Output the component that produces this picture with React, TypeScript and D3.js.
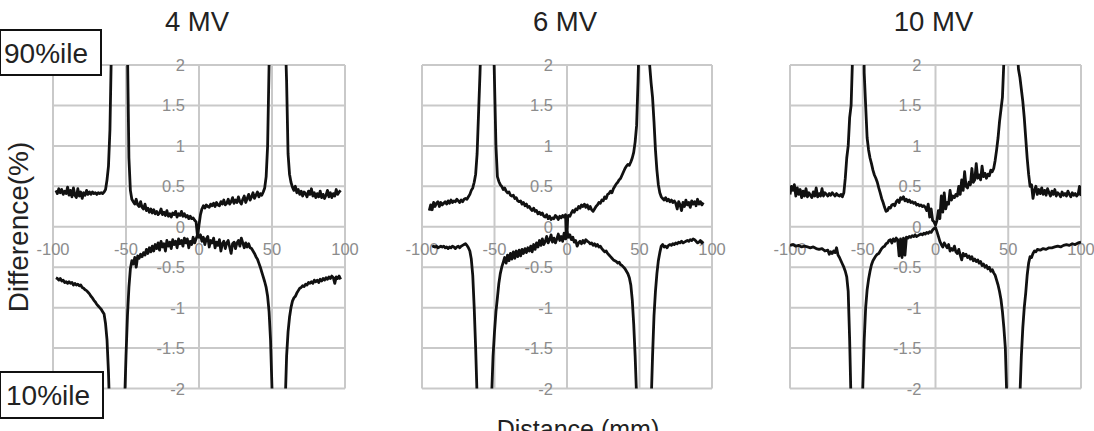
import React from "react";
import * as d3 from "d3";

type P = [number, number];

const panelTitles = ["4 MV", "6 MV", "10 MV"];
const xTicks = [-100, -50, 0, 50, 100];
const yTicks = [-2, -1.5, -1, -0.5, 0, 0.5, 1, 1.5, 2];
const yTickLabels = ["-2", "-1.5", "-1", "-0.5", "0", "0.5", "1", "1.5", "2"];
const xTickLabels = ["-100", "-50", "0", "50", "100"];
const upperLabel = "90%ile";
const lowerLabel = "10%ile";
const yAxisTitle = "Difference(%)";
const xAxisTitle = "Distance (mm)";

const U4: P[] = [[-98,0.45],[-97,0.41],[-96,0.47],[-95,0.42],[-94,0.46],[-93,0.4],[-92,0.44],[-91,0.41],[-90,0.49],[-89,0.39],[-88,0.45],[-87,0.37],[-86,0.48],[-85,0.39],[-84,0.36],[-83,0.47],[-82,0.38],[-81,0.43],[-80,0.35],[-79,0.42],[-78,0.39],[-77,0.45],[-76,0.4],[-75,0.43],[-74,0.4],[-73,0.43],[-72,0.41],[-71,0.42],[-70,0.4],[-69,0.42],[-68,0.41],[-67,0.42],[-66,0.41],[-65,0.43],[-64,0.46],[-63,0.58],[-62,0.75],[-61,1.2],[-60,2.2],[-59,3.5],[-50,3.5],[-49,2.2],[-48,0.85],[-47,0.45],[-46,0.34],[-45,0.31],[-44,0.28],[-43,0.34],[-42,0.27],[-41,0.25],[-40,0.31],[-39,0.24],[-38,0.22],[-37,0.28],[-36,0.2],[-35,0.23],[-34,0.18],[-33,0.22],[-32,0.17],[-31,0.21],[-30,0.16],[-29,0.19],[-28,0.15],[-27,0.17],[-26,0.22],[-25,0.15],[-24,0.18],[-23,0.14],[-22,0.2],[-21,0.13],[-20,0.16],[-19,0.12],[-18,0.17],[-17,0.15],[-16,0.19],[-15,0.12],[-14,0.16],[-13,0.14],[-12,0.19],[-11,0.13],[-10,0.16],[-9,0.12],[-8,0.14],[-7,0.1],[-6,0.13],[-5,0.1],[-4,0.11],[-3,0.08],[-2,0.06],[-1,-0.12],[0,0.02],[1,0.15],[2,0.22],[3,0.26],[4,0.23],[5,0.27],[6,0.25],[7,0.24],[8,0.28],[9,0.26],[10,0.29],[11,0.25],[12,0.3],[13,0.27],[14,0.26],[15,0.31],[16,0.28],[17,0.33],[18,0.27],[19,0.29],[20,0.34],[21,0.28],[22,0.31],[23,0.36],[24,0.29],[25,0.33],[26,0.3],[27,0.37],[28,0.31],[29,0.28],[30,0.34],[31,0.38],[32,0.3],[33,0.35],[34,0.4],[35,0.33],[36,0.37],[37,0.42],[38,0.35],[39,0.39],[40,0.43],[41,0.37],[42,0.41],[43,0.39],[44,0.43],[45,0.48],[46,0.62],[47,1.0],[48,2.0],[49,3.5],[58,3.5],[59,2.4],[60,1.8],[61,0.9],[62,0.65],[63,0.55],[64,0.49],[65,0.45],[66,0.5],[67,0.42],[68,0.46],[69,0.4],[70,0.44],[71,0.38],[72,0.43],[73,0.41],[74,0.37],[75,0.44],[76,0.4],[77,0.47],[78,0.38],[79,0.42],[80,0.36],[81,0.41],[82,0.37],[83,0.44],[84,0.36],[85,0.4],[86,0.35],[87,0.39],[88,0.45],[89,0.37],[90,0.42],[91,0.36],[92,0.41],[93,0.38],[94,0.46],[95,0.4],[96,0.43],[97,0.45]];

const L4: P[] = [[-98,-0.63],[-97,-0.64],[-96,-0.66],[-95,-0.64],[-94,-0.67],[-93,-0.66],[-92,-0.69],[-91,-0.68],[-90,-0.7],[-89,-0.68],[-88,-0.7],[-87,-0.69],[-86,-0.72],[-85,-0.7],[-84,-0.72],[-83,-0.71],[-82,-0.73],[-81,-0.72],[-80,-0.75],[-79,-0.76],[-78,-0.78],[-77,-0.79],[-76,-0.81],[-75,-0.83],[-74,-0.86],[-73,-0.88],[-72,-0.91],[-71,-0.93],[-70,-0.96],[-69,-0.98],[-68,-1.0],[-67,-1.02],[-66,-1.05],[-65,-1.08],[-64,-1.2],[-63,-1.4],[-62,-1.8],[-61,-2.4],[-60,-3.5],[-52,-3.5],[-51,-2.2],[-50,-1.6],[-49,-1.1],[-48,-0.75],[-47,-0.52],[-46,-0.42],[-45,-0.46],[-44,-0.38],[-43,-0.5],[-42,-0.36],[-41,-0.39],[-40,-0.34],[-39,-0.37],[-38,-0.32],[-37,-0.35],[-36,-0.28],[-35,-0.33],[-34,-0.26],[-33,-0.31],[-32,-0.24],[-31,-0.3],[-30,-0.22],[-29,-0.27],[-28,-0.2],[-27,-0.29],[-26,-0.18],[-25,-0.25],[-24,-0.21],[-23,-0.3],[-22,-0.17],[-21,-0.24],[-20,-0.19],[-19,-0.27],[-18,-0.16],[-17,-0.22],[-16,-0.18],[-15,-0.26],[-14,-0.15],[-13,-0.21],[-12,-0.17],[-11,-0.24],[-10,-0.14],[-9,-0.2],[-8,-0.15],[-7,-0.26],[-6,-0.18],[-5,-0.22],[-4,-0.13],[-3,-0.2],[-2,-0.15],[-1,-0.1],[0,-0.13],[1,-0.1],[2,-0.18],[3,-0.13],[4,-0.22],[5,-0.15],[6,-0.12],[7,-0.25],[8,-0.17],[9,-0.2],[10,-0.14],[11,-0.26],[12,-0.19],[13,-0.23],[14,-0.16],[15,-0.3],[16,-0.21],[17,-0.18],[18,-0.27],[19,-0.2],[20,-0.17],[21,-0.25],[22,-0.33],[23,-0.21],[24,-0.19],[25,-0.27],[26,-0.2],[27,-0.17],[28,-0.24],[29,-0.14],[30,-0.2],[31,-0.26],[32,-0.2],[33,-0.25],[34,-0.21],[35,-0.26],[36,-0.27],[37,-0.3],[38,-0.33],[39,-0.37],[40,-0.4],[41,-0.45],[42,-0.5],[43,-0.56],[44,-0.62],[45,-0.68],[46,-0.75],[47,-0.86],[48,-1.05],[49,-1.4],[50,-2.0],[51,-3.5],[58,-3.5],[59,-2.2],[60,-1.6],[61,-1.3],[62,-1.12],[63,-1.0],[64,-0.92],[65,-0.88],[66,-0.86],[67,-0.82],[68,-0.79],[69,-0.76],[70,-0.75],[71,-0.73],[72,-0.74],[73,-0.71],[74,-0.72],[75,-0.69],[76,-0.7],[77,-0.68],[78,-0.7],[79,-0.66],[80,-0.68],[81,-0.66],[82,-0.69],[83,-0.65],[84,-0.67],[85,-0.64],[86,-0.66],[87,-0.63],[88,-0.65],[89,-0.62],[90,-0.64],[91,-0.61],[92,-0.63],[93,-0.7],[94,-0.62],[95,-0.64],[96,-0.61],[97,-0.65]];

const U6: P[] = [[-95,0.2],[-94,0.27],[-93,0.21],[-92,0.3],[-91,0.25],[-90,0.29],[-89,0.31],[-88,0.25],[-87,0.3],[-86,0.27],[-85,0.29],[-84,0.31],[-83,0.28],[-82,0.32],[-81,0.29],[-80,0.33],[-79,0.3],[-78,0.32],[-77,0.31],[-76,0.34],[-75,0.32],[-74,0.3],[-73,0.33],[-72,0.31],[-71,0.34],[-70,0.35],[-69,0.34],[-68,0.37],[-67,0.4],[-66,0.45],[-65,0.48],[-64,0.55],[-63,0.65],[-62,0.9],[-61,1.4],[-60,1.9],[-59,2.5],[-58,3.5],[-52,3.5],[-51,2.6],[-50,1.8],[-49,1.0],[-48,0.62],[-47,0.56],[-46,0.52],[-45,0.5],[-44,0.46],[-43,0.48],[-42,0.44],[-41,0.42],[-40,0.43],[-39,0.39],[-38,0.38],[-37,0.39],[-36,0.35],[-35,0.36],[-34,0.32],[-33,0.31],[-32,0.32],[-31,0.28],[-30,0.3],[-29,0.26],[-28,0.28],[-27,0.24],[-26,0.25],[-25,0.22],[-24,0.2],[-23,0.23],[-22,0.19],[-21,0.2],[-20,0.16],[-19,0.18],[-18,0.15],[-17,0.17],[-16,0.13],[-15,0.12],[-14,0.15],[-13,0.1],[-12,0.13],[-11,0.09],[-10,0.11],[-9,0.1],[-8,0.14],[-7,0.12],[-6,0.09],[-5,0.13],[-4,0.11],[-3,0.14],[-2,0.12],[-1,0.15],[-0.5,-0.14],[0,-0.1],[0.5,0.12],[1,0.14],[2,0.13],[3,0.17],[4,0.2],[5,0.18],[6,0.22],[7,0.21],[8,0.25],[9,0.23],[10,0.27],[11,0.25],[12,0.28],[13,0.24],[14,0.27],[15,0.22],[16,0.25],[17,0.21],[18,0.19],[19,0.22],[20,0.25],[21,0.27],[22,0.3],[23,0.29],[24,0.33],[25,0.32],[26,0.37],[27,0.35],[28,0.4],[29,0.41],[30,0.44],[31,0.42],[32,0.47],[33,0.5],[34,0.53],[35,0.55],[36,0.58],[37,0.6],[38,0.64],[39,0.68],[40,0.72],[41,0.75],[42,0.77],[43,0.76],[44,0.8],[45,0.85],[46,0.92],[47,1.05],[48,1.25],[49,1.8],[50,2.5],[51,3.5],[56,3.5],[57,2.0],[58,1.78],[59,1.6],[60,1.3],[61,0.95],[62,0.7],[63,0.52],[64,0.42],[65,0.37],[66,0.35],[67,0.33],[68,0.36],[69,0.32],[70,0.34],[71,0.31],[72,0.33],[73,0.3],[74,0.32],[75,0.29],[76,0.22],[77,0.31],[78,0.27],[79,0.2],[80,0.3],[81,0.25],[82,0.33],[83,0.27],[84,0.3],[85,0.24],[86,0.32],[87,0.28],[88,0.31],[89,0.26],[90,0.34],[91,0.28],[92,0.31],[93,0.27],[94,0.3]];

const L6: P[] = [[-93,-0.25],[-92,-0.24],[-91,-0.25],[-90,-0.24],[-89,-0.26],[-88,-0.25],[-87,-0.24],[-86,-0.25],[-85,-0.24],[-84,-0.26],[-83,-0.25],[-82,-0.27],[-81,-0.25],[-80,-0.26],[-79,-0.24],[-78,-0.25],[-77,-0.27],[-76,-0.25],[-75,-0.24],[-74,-0.26],[-73,-0.24],[-72,-0.23],[-71,-0.22],[-70,-0.21],[-69,-0.23],[-68,-0.26],[-67,-0.3],[-66,-0.4],[-65,-0.6],[-64,-1.0],[-63,-1.5],[-62,-2.1],[-61,-3.5],[-53,-3.5],[-52,-2.1],[-51,-1.6],[-50,-1.3],[-49,-1.05],[-48,-0.88],[-47,-0.7],[-46,-0.58],[-45,-0.5],[-44,-0.44],[-43,-0.38],[-42,-0.45],[-41,-0.35],[-40,-0.42],[-39,-0.33],[-38,-0.4],[-37,-0.31],[-36,-0.39],[-35,-0.3],[-34,-0.37],[-33,-0.29],[-32,-0.36],[-31,-0.28],[-30,-0.33],[-29,-0.27],[-28,-0.32],[-27,-0.26],[-26,-0.3],[-25,-0.24],[-24,-0.31],[-23,-0.22],[-22,-0.28],[-21,-0.2],[-20,-0.25],[-19,-0.17],[-18,-0.23],[-17,-0.15],[-16,-0.22],[-15,-0.18],[-14,-0.12],[-13,-0.2],[-12,-0.16],[-11,-0.1],[-10,-0.19],[-9,-0.14],[-8,-0.2],[-7,-0.15],[-6,-0.09],[-5,-0.17],[-4,-0.12],[-3,-0.18],[-2,-0.08],[-1,-0.15],[0,-0.06],[1,-0.13],[2,-0.1],[3,-0.16],[4,-0.13],[5,-0.19],[6,-0.17],[7,-0.24],[8,-0.2],[9,-0.18],[10,-0.21],[11,-0.17],[12,-0.2],[13,-0.16],[14,-0.18],[15,-0.19],[16,-0.21],[17,-0.2],[18,-0.23],[19,-0.21],[20,-0.24],[21,-0.22],[22,-0.25],[23,-0.24],[24,-0.27],[25,-0.29],[26,-0.31],[27,-0.3],[28,-0.33],[29,-0.35],[30,-0.37],[31,-0.39],[32,-0.41],[33,-0.42],[34,-0.43],[35,-0.45],[36,-0.44],[37,-0.47],[38,-0.48],[39,-0.5],[40,-0.52],[41,-0.55],[42,-0.58],[43,-0.63],[44,-0.72],[45,-0.9],[46,-1.2],[47,-1.6],[48,-2.1],[49,-3.5],[57,-3.5],[58,-2.2],[59,-1.6],[60,-1.1],[61,-0.8],[62,-0.58],[63,-0.42],[64,-0.32],[65,-0.24],[66,-0.22],[67,-0.25],[68,-0.24],[69,-0.26],[70,-0.23],[71,-0.22],[72,-0.23],[73,-0.21],[74,-0.22],[75,-0.2],[76,-0.21],[77,-0.19],[78,-0.2],[79,-0.18],[80,-0.2],[81,-0.19],[82,-0.18],[83,-0.17],[84,-0.18],[85,-0.16],[86,-0.17],[87,-0.15],[88,-0.16],[89,-0.18],[90,-0.2],[91,-0.19],[92,-0.17],[93,-0.2],[94,-0.18]];

const U10: P[] = [[-100,0.4],[-99,0.5],[-98,0.45],[-97,0.52],[-96,0.38],[-95,0.48],[-94,0.4],[-93,0.46],[-92,0.36],[-91,0.44],[-90,0.38],[-89,0.47],[-88,0.37],[-87,0.42],[-86,0.39],[-85,0.36],[-84,0.43],[-83,0.38],[-82,0.48],[-81,0.37],[-80,0.41],[-79,0.38],[-78,0.47],[-77,0.38],[-76,0.42],[-75,0.4],[-74,0.38],[-73,0.41],[-72,0.39],[-71,0.42],[-70,0.4],[-69,0.38],[-68,0.41],[-67,0.39],[-66,0.38],[-65,0.4],[-64,0.37],[-63,0.42],[-62,0.6],[-61,0.85],[-60,1.0],[-59,1.35],[-58,1.5],[-57,2.1],[-56,3.5],[-50,3.5],[-49,1.9],[-48,1.5],[-47,1.1],[-46,0.95],[-45,0.85],[-44,0.78],[-43,0.7],[-42,0.64],[-41,0.6],[-40,0.55],[-39,0.48],[-38,0.42],[-37,0.35],[-36,0.3],[-35,0.24],[-34,0.19],[-33,0.2],[-32,0.24],[-31,0.23],[-30,0.27],[-29,0.28],[-28,0.26],[-27,0.31],[-26,0.33],[-25,0.3],[-24,0.36],[-23,0.34],[-22,0.37],[-21,0.32],[-20,0.34],[-19,0.31],[-18,0.33],[-17,0.3],[-16,0.31],[-15,0.29],[-14,0.3],[-13,0.27],[-12,0.28],[-11,0.26],[-10,0.27],[-9,0.25],[-8,0.26],[-7,0.24],[-6,0.2],[-5,0.28],[-4,0.12],[-3,0.22],[-2,0.08],[-1,0.06],[0,0.02],[1,0.08],[2,0.2],[3,0.1],[4,0.38],[5,0.18],[6,0.42],[7,0.22],[8,0.3],[9,0.28],[10,0.45],[11,0.33],[12,0.38],[13,0.36],[14,0.4],[15,0.38],[16,0.5],[17,0.4],[18,0.58],[19,0.45],[20,0.68],[21,0.5],[22,0.48],[23,0.55],[24,0.52],[25,0.72],[26,0.55],[27,0.58],[28,0.78],[29,0.6],[30,0.64],[31,0.58],[32,0.75],[33,0.62],[34,0.66],[35,0.6],[36,0.65],[37,0.63],[38,0.7],[39,0.68],[40,0.72],[41,0.82],[42,0.95],[43,1.1],[44,1.3],[45,1.45],[46,1.6],[47,2.05],[48,3.5],[55,3.5],[56,2.3],[57,1.95],[58,1.85],[59,1.7],[60,1.55],[61,1.35],[62,1.1],[63,0.85],[64,0.65],[65,0.5],[66,0.52],[67,0.35],[68,0.45],[69,0.5],[70,0.4],[71,0.46],[72,0.41],[73,0.48],[74,0.4],[75,0.45],[76,0.39],[77,0.47],[78,0.42],[79,0.38],[80,0.44],[81,0.4],[82,0.46],[83,0.38],[84,0.42],[85,0.4],[86,0.37],[87,0.43],[88,0.39],[89,0.41],[90,0.38],[91,0.44],[92,0.4],[93,0.37],[94,0.42],[95,0.39],[96,0.41],[97,0.38],[98,0.4],[99,0.5],[100,0.38]];

const L10: P[] = [[-100,-0.23],[-98,-0.22],[-96,-0.24],[-94,-0.23],[-92,-0.25],[-90,-0.24],[-88,-0.25],[-86,-0.26],[-84,-0.25],[-82,-0.27],[-80,-0.28],[-78,-0.27],[-76,-0.3],[-74,-0.29],[-73,-0.34],[-72,-0.31],[-71,-0.33],[-70,-0.3],[-69,-0.32],[-68,-0.26],[-67,-0.35],[-66,-0.38],[-65,-0.42],[-64,-0.46],[-63,-0.5],[-62,-0.55],[-61,-0.62],[-60,-0.8],[-59,-1.4],[-58,-2.2],[-57,-3.5],[-51,-3.5],[-50,-2.0],[-49,-1.4],[-48,-1.0],[-47,-0.78],[-46,-0.65],[-45,-0.55],[-44,-0.47],[-43,-0.42],[-42,-0.39],[-41,-0.36],[-40,-0.34],[-39,-0.33],[-38,-0.3],[-37,-0.27],[-36,-0.25],[-35,-0.24],[-34,-0.21],[-33,-0.2],[-32,-0.17],[-31,-0.16],[-30,-0.2],[-29,-0.15],[-28,-0.18],[-27,-0.14],[-26,-0.16],[-25,-0.36],[-24,-0.15],[-23,-0.38],[-22,-0.14],[-21,-0.35],[-20,-0.13],[-19,-0.14],[-18,-0.12],[-17,-0.13],[-16,-0.11],[-15,-0.12],[-14,-0.1],[-13,-0.12],[-12,-0.11],[-11,-0.1],[-10,-0.09],[-9,-0.1],[-8,-0.08],[-7,-0.09],[-6,-0.07],[-5,-0.08],[-4,-0.06],[-3,-0.07],[-2,-0.04],[-1,-0.02],[0,-0.01],[1,-0.06],[2,-0.12],[3,-0.18],[4,-0.22],[5,-0.25],[6,-0.2],[7,-0.23],[8,-0.26],[9,-0.22],[10,-0.3],[11,-0.27],[12,-0.29],[13,-0.24],[14,-0.31],[15,-0.33],[16,-0.28],[17,-0.35],[18,-0.41],[19,-0.33],[20,-0.36],[21,-0.34],[22,-0.38],[23,-0.36],[24,-0.4],[25,-0.37],[26,-0.42],[27,-0.4],[28,-0.43],[29,-0.41],[30,-0.45],[31,-0.43],[32,-0.48],[33,-0.46],[34,-0.5],[35,-0.48],[36,-0.52],[37,-0.5],[38,-0.55],[39,-0.53],[40,-0.57],[41,-0.6],[42,-0.66],[43,-0.72],[44,-0.8],[45,-0.9],[46,-1.05],[47,-1.25],[48,-1.5],[49,-2.1],[50,-3.5],[57,-3.5],[58,-2.1],[59,-1.6],[60,-1.25],[61,-1.0],[62,-0.82],[63,-0.6],[64,-0.45],[65,-0.37],[66,-0.38],[67,-0.33],[68,-0.3],[69,-0.31],[70,-0.28],[72,-0.29],[74,-0.27],[76,-0.28],[78,-0.26],[80,-0.26],[82,-0.25],[84,-0.24],[86,-0.25],[88,-0.23],[90,-0.22],[92,-0.23],[94,-0.21],[96,-0.22],[98,-0.2],[100,-0.19]];

const upperSeries = [U4, U6, U10];
const lowerSeries = [L4, L6, L10];

const W = 1094;
const H = 431;
const FONT = "'Liberation Sans', Arial, Helvetica, sans-serif";
const panelX: [number, number][] = [[53, 345], [422, 712], [790, 1081]];
const TOP = 65;
const BOTTOM = 388.5;
const GRID = "#c9c9c9";
const TICK = "#8c8c8c";

export default function App() {
  const y = d3.scaleLinear().domain([-2, 2]).range([BOTTOM, TOP]);
  return (
    <svg width={W} height={H} style={{ position: "absolute", left: 0, top: 0, background: "#fff" }} fontFamily={FONT}>
      <rect x={0} y={0} width={W} height={H} fill="#fff" />
      {panelTitles.map((title, i) => {
        const x = d3.scaleLinear().domain([-100, 100]).range(panelX[i]);
        const line = d3.line<P>().x((d) => x(d[0])).y((d) => y(d[1]));
        const clipId = `clip${i}`;
        return (
          <g key={title}>
            <defs>
              <clipPath id={clipId}>
                <rect x={x(-100)} y={y(2)} width={x(100) - x(-100)} height={y(-2) - y(2)} />
              </clipPath>
            </defs>
            {yTicks.map((t) => (
              <line key={"h" + t} x1={x(-100)} x2={x(100)} y1={y(t)} y2={y(t)} stroke={GRID} strokeWidth={2} />
            ))}
            {xTicks.map((t) => (
              <line key={"v" + t} x1={x(t)} x2={x(t)} y1={y(2)} y2={y(-2)} stroke={GRID} strokeWidth={2} />
            ))}
            {yTicks.map((t, k) => (
              <text key={"yl" + t} x={x(0) - 14} y={y(t) + 6} textAnchor="end" fontSize={16.5} fill={TICK}>
                {yTickLabels[k]}
              </text>
            ))}
            {xTicks.map((t, k) => (
              <text key={"xl" + t} x={x(t)} y={y(0) + 28} textAnchor="middle" fontSize={16.5} fill={TICK}>
                {xTickLabels[k]}
              </text>
            ))}
            <g clipPath={`url(#${clipId})`}>
              <path d={line(upperSeries[i]) || ""} fill="none" stroke="#111" strokeWidth={2.8} strokeLinejoin="round" />
              <path d={line(lowerSeries[i]) || ""} fill="none" stroke="#111" strokeWidth={2.8} strokeLinejoin="round" />
            </g>
            <text x={x(0) - 2} y={31} textAnchor="middle" fontSize={27.5} fill="#222">
              {title}
            </text>
          </g>
        );
      })}
      <text transform="translate(28,227) rotate(-90)" textAnchor="middle" fontSize={28} fill="#222">
        {yAxisTitle}
      </text>
      <text x={578} y={438} textAnchor="middle" fontSize={25} fill="#222">
        {xAxisTitle}
      </text>
      <rect x={0} y={30} width={101} height={45} fill="#fff" stroke="#111" strokeWidth={2} />
      <text x={4} y={63} fontSize={28} fill="#222">{upperLabel}</text>
      <rect x={0} y={372} width={103} height={46} fill="#fff" stroke="#111" strokeWidth={2} />
      <text x={6} y={405} fontSize={28} fill="#222">{lowerLabel}</text>
    </svg>
  );
}
